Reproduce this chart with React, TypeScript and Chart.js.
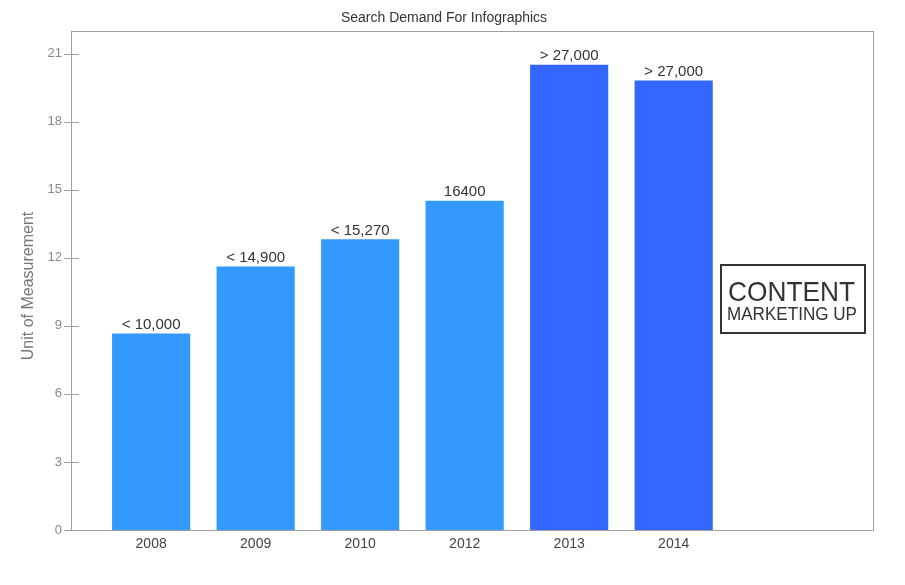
import { useEffect, useRef } from 'react';
import { Chart, registerables } from 'chart.js';

Chart.register(...registerables);

const FONT = '"Liberation Sans", Arial, Helvetica, sans-serif';

const TITLE = 'Search Demand For Infographics';
const Y_TITLE = 'Unit of Measurement';
const YEARS = ['2008', '2009', '2010', '2012', '2013', '2014'];
const VALUES = [8.65, 11.6, 12.8, 14.5, 20.5, 19.8];
const BAR_LABELS = ['< 10,000', '< 14,900', '< 15,270', '16400', '> 27,000', '> 27,000'];
const BAR_COLORS = ['#3399ff', '#3399ff', '#3399ff', '#3399ff', '#3366ff', '#3366ff'];
const Y_TICKS = [0, 3, 6, 9, 12, 15, 18, 21];
const BADGE_LINES = ['CONTENT', 'MARKETING UP'];

const overlayPlugin = {
  id: 'overlay',
  afterDatasetsDraw(chart: any) {
    const { ctx, chartArea: a, scales } = chart;
    ctx.save();

    // frame
    ctx.strokeStyle = '#a0a0a0';
    ctx.lineWidth = 1;
    ctx.strokeRect(a.left + 0.5, a.top + 0.5, a.right - a.left - 1, a.bottom - a.top);

    // y tick marks
    ctx.strokeStyle = '#a0a0a0';
    Y_TICKS.forEach((v) => {
      const y = Math.round(scales.y.getPixelForValue(v)) + 0.5;
      ctx.beginPath();
      ctx.moveTo(a.left - 7, y);
      ctx.lineTo(a.left + 8, y);
      ctx.stroke();
    });

    // bar value labels
    const meta = chart.getDatasetMeta(0);
    ctx.fillStyle = '#333';
    ctx.font = `15px ${FONT}`;
    ctx.textAlign = 'center';
    ctx.textBaseline = 'alphabetic';
    meta.data.forEach((bar: any, i: number) => {
      ctx.fillText(BAR_LABELS[i], bar.x, bar.y - 5);
    });

    // title
    ctx.font = `14px ${FONT}`;
    ctx.fillStyle = '#333';
    ctx.fillText(TITLE, 444, 22);

    // y axis title
    ctx.save();
    ctx.translate(33, 286);
    ctx.rotate(-Math.PI / 2);
    ctx.font = `16px ${FONT}`;
    ctx.fillStyle = '#777';
    ctx.fillText(Y_TITLE, 0, 0);
    ctx.restore();

    // badge
    ctx.strokeStyle = '#333';
    ctx.lineWidth = 2;
    ctx.strokeRect(721, 265, 144, 68);
    const drawFit = (text: string, size: number, cx: number, base: number, w: number) => {
      ctx.save();
      ctx.font = `${size}px ${FONT}`;
      const m = ctx.measureText(text).width;
      ctx.translate(cx, base);
      ctx.scale(w / m, 1);
      ctx.fillStyle = '#333';
      ctx.textAlign = 'center';
      ctx.fillText(text, 0, 0);
      ctx.restore();
    };
    drawFit(BADGE_LINES[0], 28, 791.5, 301, 127);
    drawFit(BADGE_LINES[1], 18.5, 792, 320, 130);

    ctx.restore();
  },
};

export default function App() {
  const ref = useRef<HTMLCanvasElement | null>(null);

  useEffect(() => {
    if (!ref.current) return;
    Chart.defaults.font.family = FONT;
    const chart = new Chart(ref.current, {
      type: 'bar',
      data: {
        datasets: [
          {
            data: VALUES.map((v, i) => ({ x: i, y: v })),
            backgroundColor: BAR_COLORS,
            borderWidth: 0,
            barThickness: 77.5,
          },
        ],
      },
      options: {
        animation: false,
        responsive: false,
        events: [],
        layout: { padding: { left: 0, top: 31, right: 31, bottom: 0 } },
        plugins: {
          legend: { display: false },
          title: { display: false },
          tooltip: { enabled: false },
        },
        scales: {
          x: {
            type: 'linear',
            offset: false,
            min: -0.767,
            max: 6.917,
            grid: { display: false, drawTicks: false, offset: false },
            border: { display: false },
            afterBuildTicks: (s: any) => {
              s.ticks = YEARS.map((_, i) => ({ value: i }));
            },
            afterFit: (s: any) => {
              s.height = 55;
            },
            ticks: {
              autoSkip: false,
              maxRotation: 0,
              padding: 6,
              color: '#444',
              font: { size: 14, family: FONT },
              callback: (v: any) => YEARS[v] ?? '',
            },
          },
          y: {
            type: 'linear',
            min: 0,
            max: 22,
            grid: { display: false, drawTicks: false },
            border: { display: false },
            afterBuildTicks: (s: any) => {
              s.ticks = Y_TICKS.map((v) => ({ value: v }));
            },
            afterFit: (s: any) => {
              s.width = 71;
            },
            ticks: {
              padding: 9,
              color: '#888',
              font: { size: 13, family: FONT },
            },
          },
        },
      } as any,
      plugins: [overlayPlugin],
    });
    return () => chart.destroy();
  }, []);

  return (
    <div style={{ position: 'absolute', left: 0, top: 0, width: 905, height: 585, background: '#fff' }}>
      <canvas ref={ref} width={905} height={585} style={{ display: 'block' }} />
    </div>
  );
}
